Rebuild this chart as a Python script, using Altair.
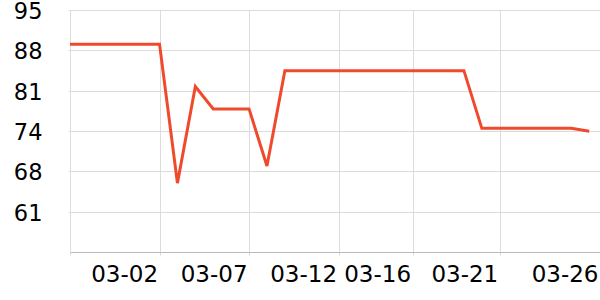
import altair as alt
import pandas as pd

# ---- data ----
dates = ["02-25", "02-26", "02-27", "02-28", "03-01", "03-02", "03-03", "03-04",
         "03-05", "03-06", "03-07", "03-08", "03-09", "03-10", "03-11", "03-12",
         "03-13", "03-14", "03-15", "03-16", "03-17", "03-18", "03-19", "03-20",
         "03-21", "03-22", "03-23", "03-24", "03-25", "03-26"]
values = [89.2, 89.2, 89.2, 89.2, 89.2, 89.2, 65.6, 82.0,
          78.2, 78.2, 78.2, 68.5, 84.7, 84.7, 84.7, 84.7,
          84.7, 84.7, 84.7, 84.7, 84.7, 84.7, 84.7, 74.9,
          74.9, 74.9, 74.9, 74.9, 74.9, 74.4]

x_tick_pos = [0, 5, 10, 15, 19.13, 24, 29.6]
x_tick_labels = ["", "03-02", "03-07", "03-12", "03-16", "03-21", "03-26"]
x_domain = [0, 29.6]

y_tick_values = [60.75, 67.6, 74.45, 81.3, 88.15, 95.0]
y_domain = [53.9, 95.0]

df = pd.DataFrame({"pos": list(range(len(dates))), "date": dates, "value": values})

label_expr = "''"
for p, lab in reversed(list(zip(x_tick_pos, x_tick_labels))):
    label_expr = f"datum.value == {p} ? '{lab}' : ({label_expr})"

FONT = "DejaVu Sans"
GRID = "#dcdcdc"

chart = alt.Chart(df).mark_line(color="#ef4a2c", strokeWidth=3).encode(
    x=alt.X(
        "pos:Q",
        scale=alt.Scale(domain=x_domain, nice=False, zero=False),
        axis=alt.Axis(
            title=None,
            values=x_tick_pos,
            labelExpr=label_expr,
            labelAlign="right",
            labelBaseline="top",
            labelOffset=-2,
            labelPadding=8,
            labelFlush=False,
            labelOverlap=False,
            labelBound=False,
            labelFont=FONT,
            labelFontSize=23,
            labelColor="#000000",
            tickSize=3,
            tickColor=GRID,
            domainColor="#bbbbbb",
            grid=True,
            gridColor=alt.condition("datum.value > 29", alt.value("transparent"), alt.value(GRID)),
        ),
    ),
    y=alt.Y(
        "value:Q",
        scale=alt.Scale(domain=y_domain, nice=False, zero=False),
        axis=alt.Axis(
            title=None,
            values=y_tick_values,
            format=".0f",
            labelFont=FONT,
            labelFontSize=22.5,
            labelColor="#000000",
            labelPadding=26,
            labelOffset=1.5,
            tickSize=2,
            tickColor=GRID,
            domainColor=GRID,
            grid=True,
            gridColor=GRID,
        ),
    ),
).properties(
    width=530,
    height=242,
    padding={"left": 70, "top": 10, "right": 0, "bottom": 48},
    autosize=alt.AutoSizeParams(type="none"),
).configure_view(stroke=None)

chart.save("out.html", embed_options={"renderer": "svg", "actions": False})
